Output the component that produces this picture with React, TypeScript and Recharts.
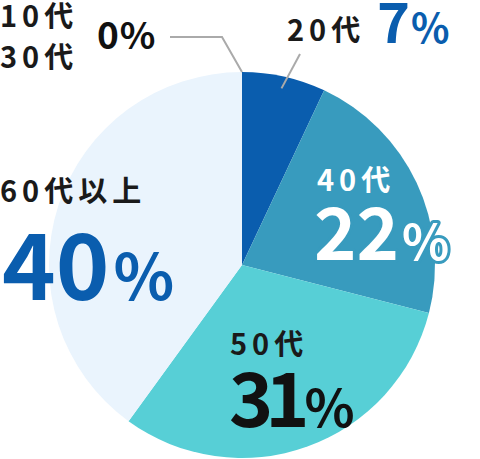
import { Cell, Pie, PieChart } from 'recharts'

const categories = ['10代', '30代', '20代', '40代', '50代', '60代以上']
const shares = [0, 0, 7, 22, 31, 40]
const sliceColors = ['#0A5DAE', '#0A5DAE', '#0A5DAE', '#389BBE', '#57CFD6', '#EAF4FD']

const FONT = '"Noto Sans CJK JP", "Noto Sans", sans-serif'
const RAD = Math.PI / 180

// where each label sits (name line, then the big percentage)
const labelLayout: Record<string, any> = {
  '10代': { nx: 0, ny: 27, px: 97, py: 49, big: 37, small: 37, gap: 1, color: '#111', line: [[170, 37], [222, 37]] },
  '30代': { nx: 0, ny: 68 },
  '20代': { nx: 287, ny: 41, px: 377, py: 43, big: 56, small: 40, gap: 1, color: '#0A5DAE', tip: [300, 54] },
  '40代': { nx: 317, ny: 191, px: 314, py: 260, big: 72, small: 49, gap: 3, color: '#fff', nameColor: '#fff', halo: '#389BBE' },
  '50代': { nx: 230, ny: 355, px: 229, py: 427, big: 75, small: 52, gap: 3, numSpacing: -8, color: '#111' },
  '60代以上': { nx: 0, ny: 202, px: 2, py: 300, big: 91, small: 63, gap: 4, color: '#0A5DAE' },
}

function renderLabel(props: any) {
  const { cx, cy, midAngle, outerRadius, name, value } = props
  const l = labelLayout[name]
  if (!l) return null
  const halo = l.halo
    ? { stroke: l.halo, strokeWidth: 6, strokeLinejoin: 'round' as const, paintOrder: 'stroke' as const }
    : {}
  let leader = null
  if (l.line) {
    const tx = cx + outerRadius * Math.cos(-midAngle * RAD)
    const ty = cy + outerRadius * Math.sin(-midAngle * RAD)
    const pts = [...l.line, [tx, ty]].map((p: number[]) => p.join(',')).join(' ')
    leader = <polyline points={pts} fill="none" stroke="#AAAAAA" strokeWidth={2} />
  }
  if (l.tip) {
    const r = outerRadius - 12
    const sx = cx + r * Math.cos(-midAngle * RAD)
    const sy = cy + r * Math.sin(-midAngle * RAD)
    leader = <line x1={sx} y1={sy} x2={l.tip[0]} y2={l.tip[1]} stroke="#AAAAAA" strokeWidth={2} />
  }
  return (
    <g key={name}>
      {leader}
      <text x={l.nx} y={l.ny} fill={l.nameColor ?? '#1A1A1A'} fontSize={29} letterSpacing={5} fontWeight={700} fontFamily={FONT} {...halo}>
        {name}
      </text>
      {l.px !== undefined && (
        <text x={l.px} y={l.py} fill={l.color} fontWeight={700} fontFamily={FONT} {...halo}>
          <tspan fontSize={l.big} letterSpacing={l.numSpacing ?? 0}>{value}</tspan>
          <tspan fontSize={l.small} dx={l.gap}>%</tspan>
        </text>
      )}
    </g>
  )
}

export default function App() {
  const data = categories.map((name, i) => ({ name, value: shares[i] }))
  return (
    <div style={{ position: 'absolute', left: 0, top: 0, width: 480, height: 459, background: '#fff' }}>
      <PieChart width={480} height={459} margin={{ top: 0, right: 0, bottom: 0, left: 0 }}>
        <Pie
          data={data}
          dataKey="value"
          nameKey="name"
          cx={242}
          cy={265}
          outerRadius={193}
          startAngle={90}
          endAngle={-270}
          stroke="none"
          label={renderLabel}
          labelLine={false}
          isAnimationActive={false}
        >
          {data.map((d, i) => (
            <Cell key={d.name} fill={sliceColors[i]} />
          ))}
        </Pie>
      </PieChart>
    </div>
  )
}
